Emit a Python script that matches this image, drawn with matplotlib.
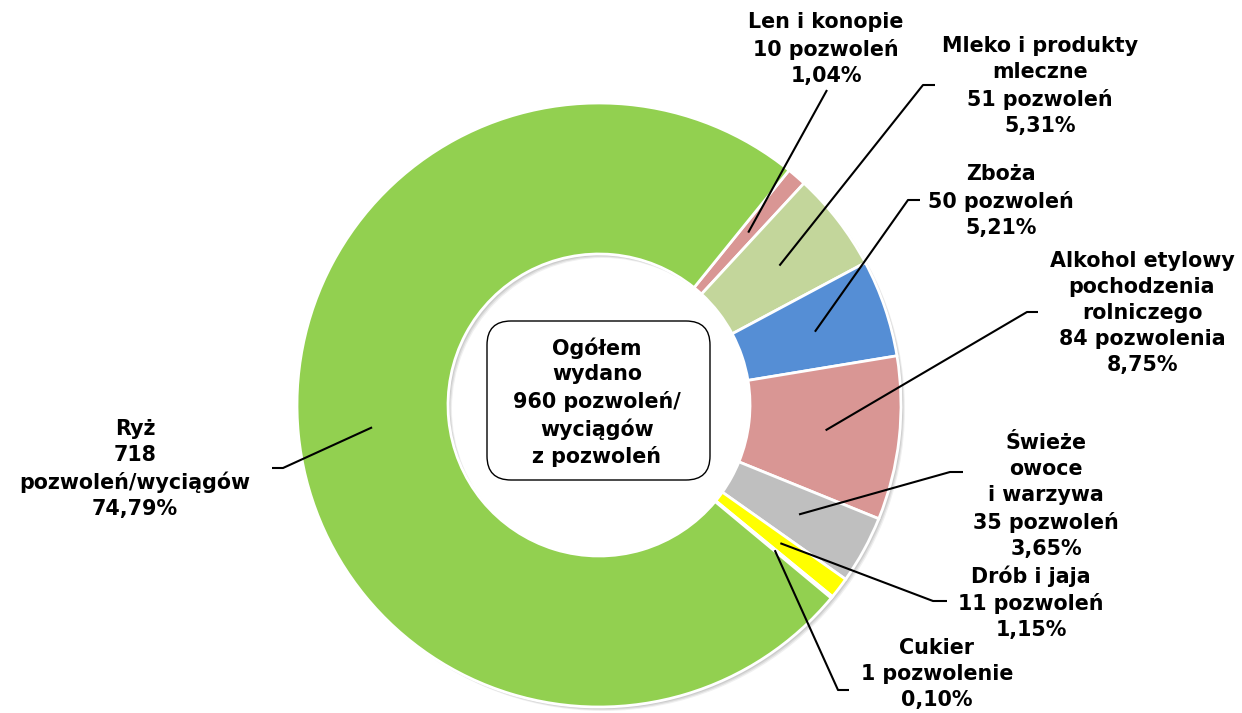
import matplotlib.pyplot as plt
from matplotlib.patches import FancyBboxPatch, Wedge
import numpy as np

# permits issued per product group (clockwise from "Len i konopie")
categories = ["Len i konopie", "Mleko i produkty\nmleczne", "Zboża",
              "Alkohol etylowy\npochodzenia\nrolniczego", "Świeże\nowoce\ni warzywa",
              "Drób i jaja", "Cukier", "Ryż\n718\npozwoleń/wyciągów"]
counts = [10, 51, 50, 84, 35, 11, 1, 718]
count_labels = ["10 pozwoleń", "51 pozwoleń", "50 pozwoleń", "84 pozwolenia",
                "35 pozwoleń", "11 pozwoleń", "1 pozwolenie", None]
percent_labels = ["1,04%", "5,31%", "5,21%", "8,75%", "3,65%", "1,15%", "0,10%", "74,79%"]
colors = ["#D99694", "#C3D69B", "#558ED5", "#D99694", "#BFBFBF", "#FFFF00", "#F79646", "#92D050"]

W, H = 1242, 713
cx, cy, R = 599, H - 405, 302

# label block centre and leader elbow / end (pixel coords, y from top)
label_pos = [(826, 49), (1040, 86), (1001, 201), (1142, 313), (1046, 496),
             (1031, 603), (937, 674), (135, 469)]
elbows = [None, ((923, 85), (935, 85)), ((908, 200), (920, 200)),
          ((1027, 312), (1038, 312)), ((950, 472), (963, 472)),
          ((933, 601), (947, 601)), ((838, 690), (849, 690)), ((283, 468), (272, 468))]
len_end = (827, 90)

fig = plt.figure(figsize=(W / 100, H / 100), dpi=100)
ax = fig.add_axes([0, 0, 1, 1])

# soft drop shadow under the ring
for off, a in [(4, 0.06), (3, 0.08), (2, 0.08)]:
    ax.add_patch(Wedge((cx + off, cy - off), R, 0, 360, width=R * 0.5,
                       facecolor="black", edgecolor="none", alpha=a, zorder=0))

wedges, _ = ax.pie(counts, colors=colors, startangle=51, counterclock=False,
                   center=(cx, cy), radius=R,
                   wedgeprops=dict(width=R * 0.5, edgecolor="white", linewidth=2))

ax.set_xlim(0, W)
ax.set_ylim(0, H)
ax.set_aspect("auto")
ax.axis("off")

font = dict(fontsize=14.9, fontweight="bold", family="DejaVu Sans", linespacing=1.37)

for i, w in enumerate(wedges):
    mid = np.deg2rad((w.theta1 + w.theta2) / 2)
    ax_x = cx + R * 0.755 * np.cos(mid)
    ax_y = cy + R * 0.755 * np.sin(mid)
    if elbows[i] is None:
        xs = [ax_x, len_end[0]]
        ys = [ax_y, H - len_end[1]]
    else:
        (ex, ey), (tx, ty) = elbows[i]
        xs = [ax_x, ex, tx]
        ys = [ax_y, H - ey, H - ty]
    ax.plot(xs, ys, color="black", lw=1.5, solid_capstyle="butt")

    parts = [categories[i]]
    if count_labels[i]:
        parts.append(count_labels[i])
    parts.append(percent_labels[i])
    lx, ly = label_pos[i]
    ax.text(lx, H - ly, "\n".join(parts), ha="center", va="center", **font)

# total box in the hole
box = FancyBboxPatch((487, H - 480), 223, 159, boxstyle="round,pad=0,rounding_size=24",
                     facecolor="white", edgecolor="black", linewidth=1)
ax.add_patch(box)
ax.text(597, H - 402, "Ogółem\nwydano\n960 pozwoleń/\nwyciągów\nz pozwoleń",
        ha="center", va="center", **font)

fig.savefig("out.png", dpi=100)
